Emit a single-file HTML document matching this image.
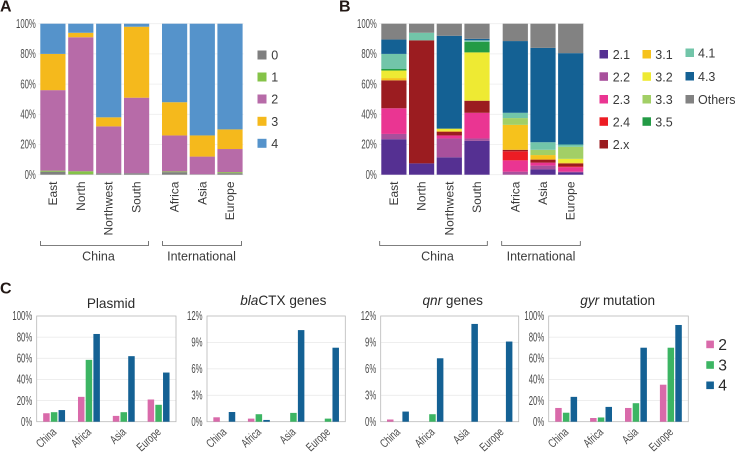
<!DOCTYPE html>
<html>
<head>
<meta charset="utf-8">
<style>
html,body{margin:0;padding:0;background:#fff;}
svg{display:block;font-family:"Liberation Sans",sans-serif;}
.letter{font-size:16px;font-weight:bold;fill:#231815;}
.lbl{font-size:12.5px;fill:#3a3a3a;}
.title{font-size:13.6px;fill:#2a2a2a;text-anchor:middle;}
.leg{font-size:12.5px;fill:#3a3a3a;}
.bracket{fill:none;stroke:#555;stroke-width:.8;}
</style>
</head>
<body>
<svg id="figure" width="735" height="452" viewBox="0 0 735 452" xmlns="http://www.w3.org/2000/svg">
  <text class="letter" x="0" y="11.7">A</text>
  <text class="letter" x="339" y="11.7">B</text>
  <text class="letter" x="0" y="293.5">C</text>

  <g id="panelA"></g>
  <g id="panelB"></g>
  <g id="panelC"></g>

  <path class="bracket" d="M40.5 241V245.5H148.5V241"/>
  <path class="bracket" d="M162.5 241V245.5H241.5V241"/>
  <text class="lbl" x="98.5" y="260.5" text-anchor="middle">China</text>
  <text class="lbl" x="201.5" y="260.5" text-anchor="middle">International</text>
  <path class="bracket" d="M379.7 241V245.5H487.3V241"/>
  <path class="bracket" d="M501.7 241V245.5H580.3V241"/>
  <text class="lbl" x="437.5" y="260.5" text-anchor="middle">China</text>
  <text class="lbl" x="541" y="260.5" text-anchor="middle">International</text>

  <g>
    <rect x="257.5" y="50.5" width="9" height="9" fill="#7f7f7f"/>
    <text class="leg" x="271.3" y="59.5">0</text>
    <rect x="257.5" y="72.5" width="9" height="9" fill="#85c348"/>
    <text class="leg" x="271.3" y="81.5">1</text>
    <rect x="257.5" y="94.5" width="9" height="9" fill="#b76ba8"/>
    <text class="leg" x="271.3" y="103.5">2</text>
    <rect x="257.5" y="116.8" width="9" height="9" fill="#f5b91c"/>
    <text class="leg" x="271.3" y="125.8">3</text>
    <rect x="257.5" y="138.8" width="9" height="9" fill="#5593cb"/>
    <text class="leg" x="271.3" y="147.8">4</text>
  </g>

  <g>
    <rect x="599.5" y="50" width="8.5" height="8.5" fill="#553092"/>
    <text class="leg" x="612.7" y="59">2.1</text>
    <rect x="599.5" y="72.3" width="8.5" height="8.5" fill="#a8509c"/>
    <text class="leg" x="612.7" y="81.3">2.2</text>
    <rect x="599.5" y="95" width="8.5" height="8.5" fill="#ea3592"/>
    <text class="leg" x="612.7" y="104">2.3</text>
    <rect x="599.5" y="117.3" width="8.5" height="8.5" fill="#ed1c24"/>
    <text class="leg" x="612.7" y="126.3">2.4</text>
    <rect x="599.5" y="140" width="8.5" height="8.5" fill="#9b1c20"/>
    <text class="leg" x="612.7" y="149">2.x</text>
    <rect x="642.5" y="50" width="8.5" height="8.5" fill="#f6c21c"/>
    <text class="leg" x="655.3" y="59">3.1</text>
    <rect x="642.5" y="72.3" width="8.5" height="8.5" fill="#eeea33"/>
    <text class="leg" x="655.3" y="81.3">3.2</text>
    <rect x="642.5" y="95" width="8.5" height="8.5" fill="#a2cf66"/>
    <text class="leg" x="655.3" y="104">3.3</text>
    <rect x="642.5" y="117.3" width="8.5" height="8.5" fill="#239b45"/>
    <text class="leg" x="655.3" y="126.3">3.5</text>
    <rect x="685.5" y="48.5" width="8.5" height="8.5" fill="#72c5a9"/>
    <text class="leg" x="698" y="57.5">4.1</text>
    <rect x="685.5" y="72" width="8.5" height="8.5" fill="#146194"/>
    <text class="leg" x="698" y="81">4.3</text>
    <rect x="685.5" y="95" width="8.5" height="8.5" fill="#828282"/>
    <text class="leg" x="698" y="104">Others</text>
  </g>

  <text class="title" x="111" y="308">Plasmid</text>
  <text class="title" x="283.3" y="305"><tspan font-style="italic">bla</tspan>CTX genes</text>
  <text class="title" x="452.7" y="305"><tspan font-style="italic">qnr</tspan> genes</text>
  <text class="title" x="617.7" y="305"><tspan font-style="italic">gyr</tspan> mutation</text>

  <g>
    <rect x="706.3" y="340.6" width="7.6" height="7.6" fill="#d96aaa"/>
    <text x="718.3" y="349.8" font-size="15.7" fill="#2a2a2a">2</text>
    <rect x="706.3" y="361.2" width="7.6" height="7.6" fill="#3cb563"/>
    <text x="718.3" y="370.4" font-size="15.7" fill="#2a2a2a">3</text>
    <rect x="706.3" y="381.5" width="7.6" height="7.6" fill="#146194"/>
    <text x="718.3" y="390.7" font-size="15.7" fill="#2a2a2a">4</text>
  </g>
</svg>

<script>
/* Panel A and B data */
const stackCategories = ['East', 'North', 'Northwest', 'South', 'Africa', 'Asia', 'Europe'];
const stackTicks = ['0%', '20%', '40%', '60%', '80%', '100%'];
const stackTickValues = [0, 20, 40, 60, 80, 100];

const aSeriesNames = ['0', '1', '2', '3', '4'];
const aColors = ['#7f7f7f', '#85c348', '#b76ba8', '#f5b91c', '#5593cb'];
const aSeries0 = [2, 0.3, 1, 1, 1.7, 0.3, 1];
const aSeries1 = [0.7, 2, 0, 0, 0.5, 0, 0.7];
const aSeries2 = [53.3, 88.7, 31, 50, 23.8, 11.7, 15.3];
const aSeries3 = [24, 3, 6, 47, 22, 14, 13];
const aSeries4 = [20, 6, 62, 2, 52, 74, 70];

const bSeriesNames = ['2.1', '2.2', '2.3', '2.4', '2.x', '3.1', '3.2', '3.3', '3.5', '4.1', '4.3', 'Others'];
const bColors = ['#553092', '#a8509c', '#ea3592', '#ed1c24', '#9b1c20', '#f6c21c', '#eeea33', '#a2cf66', '#239b45', '#72c5a9', '#146194', '#828282'];
const b21 = [23.5, 7.5, 11.5, 22.5, 0, 3.5, 1.5];
const b22 = [3.5, 0, 12.5, 1.5, 2, 2.5, 0.5];
const b23 = [17, 0, 2, 17, 7.5, 2, 3];
const b24 = [0, 0, 0, 0, 6, 0, 0.5];
const b2x = [18.5, 81.5, 2.5, 8, 1, 2, 2];
const b31 = [1.5, 0, 0.5, 0, 16.5, 3, 0.5];
const b32 = [5, 0, 1.5, 32, 0, 0, 2.5];
const b33 = [0, 0, 0, 0, 4.5, 3.5, 8];
const b35 = [1, 0, 0, 7, 0, 0, 0];
const b41 = [10, 5, 0, 1, 3.5, 5, 1.5];
const b43 = [9.5, 0, 61.5, 1, 47.5, 62.5, 60.5];
const bOthers = [10.5, 6, 8, 10, 11.5, 16, 19.5];

/* Panel C data */
const groupCategories = ['China', 'Africa', 'Asia', 'Europe'];
const groupColors = ['#d96aaa', '#3cb563', '#146194'];
const groupSeriesNames = ['2', '3', '4'];

const plasmid2 = [8, 23.5, 5.5, 21];
const plasmid3 = [9, 58.5, 9, 16];
const plasmid4 = [11, 83, 62, 46.5];
const bla2 = [0.5, 0.35, 0, 0];
const bla3 = [0, 0.85, 1, 0.35];
const bla4 = [1.1, 0.2, 10.4, 8.4];
const qnr2 = [0.25, 0, 0, 0];
const qnr3 = [0, 0.85, 0, 0];
const qnr4 = [1.15, 7.2, 11.1, 9.1];
const gyr2 = [13, 3.5, 13, 35];
const gyr3 = [8.5, 4, 17.5, 70];
const gyr4 = [23.5, 14, 70, 91.5];

const percentTicks = ['0%', '20%', '40%', '60%', '80%', '100%'];
const percentTickValues = [0, 20, 40, 60, 80, 100];
const geneTicks = ['0%', '3%', '6%', '9%', '12%'];
const geneTickValues = [0, 3, 6, 9, 12];

const NS = 'http://www.w3.org/2000/svg';

function mk(tag, attrs, parent) {
  const el = document.createElementNS(NS, tag);
  for (const k in attrs) el.setAttribute(k, attrs[k]);
  parent.appendChild(el);
  return el;
}

function drawYTick(parent, label, plotLeft, y, prefix) {
  const t = mk('text', {
    transform: 'translate(' + (plotLeft - 4.5) + ',' + (y + 4.2) + ') scale(.62,1)',
    'text-anchor': 'end', 'font-size': 12.5, fill: '#4a4a4a'
  }, parent);
  
  
  t.textContent = label;
}

function drawStack(parentId, prefix, layout, names, colors, seriesList) {
  const g = document.getElementById(parentId);
  const yTop = 23.7, yBottom = 174.7;
  const yScale = v => yBottom - (v / 100) * (yBottom - yTop);
  const barW = 25.2;
  const xBand = i => i < 4 ? layout.china + i * layout.chinaStep : layout.intl + (i - 4) * layout.intlStep;

  stackTickValues.forEach((v, i) => {
    const line = mk('line', {
      x1: layout.china - 2, x2: xBand(6) + barW + 1,
      y1: yScale(v), y2: yScale(v), stroke: '#eeeeee', 'stroke-width': 0.8
    }, g);
    
    
    drawYTick(g, stackTicks[i], layout.china, yScale(v), prefix);
  });

  stackCategories.forEach((cat, i) => {
    let acc = 0;
    seriesList.forEach((vals, s) => {
      const v = vals[i];
      if (v > 0) {
        const r = mk('rect', {
          x: xBand(i), y: yScale(acc + v), width: barW,
          height: yScale(acc) - yScale(acc + v), fill: colors[s]
        }, g);
        
        
      }
      acc += v;
    });
    const cx = xBand(i) + barW / 2 + 4;
    const t = mk('text', {
      transform: 'translate(' + cx + ',181.5) rotate(-90)',
      'text-anchor': 'end', 'font-size': 12, fill: '#3a3a3a'
    }, g);
    
    
    t.textContent = cat;
  });
}

function drawGroup(prefix, left, right, maxV, ticks, tickValues, seriesList) {
  const g = document.getElementById('panelC');
  const yTop = 316, yBottom = 421.7;
  const yScale = v => yBottom - (v / maxV) * (yBottom - yTop);
  const band = (right - left) / groupCategories.length;
  const barW = 6.5, barStep = 7.7;

  tickValues.forEach((v, i) => {
    if (v > 0 && v < maxV) {
      const line = mk('line', {
        x1: left, x2: right, y1: yScale(v), y2: yScale(v),
        stroke: '#ececec', 'stroke-width': 0.9
      }, g);
      
      
    }
    drawYTick(g, ticks[i], left, yScale(v), prefix);
  });

  const frame = mk('rect', {
    x: left, y: yTop, width: right - left, height: yBottom - yTop,
    fill: 'none', stroke: '#b8b8b8', 'stroke-width': 0.8
  }, g);
  
  

  groupCategories.forEach((cat, i) => {
    const center = left + band * (i + 0.5);
    seriesList.forEach((vals, s) => {
      const v = vals[i];
      if (v > 0) {
        const r = mk('rect', {
          x: center + (s - 1) * barStep - barW / 2, y: yScale(v),
          width: barW, height: yBottom - yScale(v), fill: groupColors[s]
        }, g);
        
        
      }
    });
    const t = mk('text', {
      transform: 'translate(' + (center + 3) + ',433) rotate(-43) scale(.72,1)',
      'text-anchor': 'end', 'font-size': 12, fill: '#4a4a4a'
    }, g);
    
    
    t.textContent = cat;
  });
}

drawStack('panelA', 'a', { china: 40.3, chinaStep: 27.9, intl: 162, intlStep: 27.7 },
  aSeriesNames, aColors, [aSeries0, aSeries1, aSeries2, aSeries3, aSeries4]);
drawStack('panelB', 'b', { china: 381.3, chinaStep: 27.7, intl: 502.7, intlStep: 27.7 },
  bSeriesNames, bColors, [b21, b22, b23, b24, b2x, b31, b32, b33, b35, b41, b43, bOthers]);

drawGroup('plasmid', 36.7, 176, 100, percentTicks, percentTickValues, [plasmid2, plasmid3, plasmid4]);
drawGroup('bla', 207, 345.3, 12, geneTicks, geneTickValues, [bla2, bla3, bla4]);
drawGroup('qnr', 380.7, 518.7, 12, geneTicks, geneTickValues, [qnr2, qnr3, qnr4]);
drawGroup('gyr', 548.7, 688.3, 100, percentTicks, percentTickValues, [gyr2, gyr3, gyr4]);
</script>
</body>
</html>
